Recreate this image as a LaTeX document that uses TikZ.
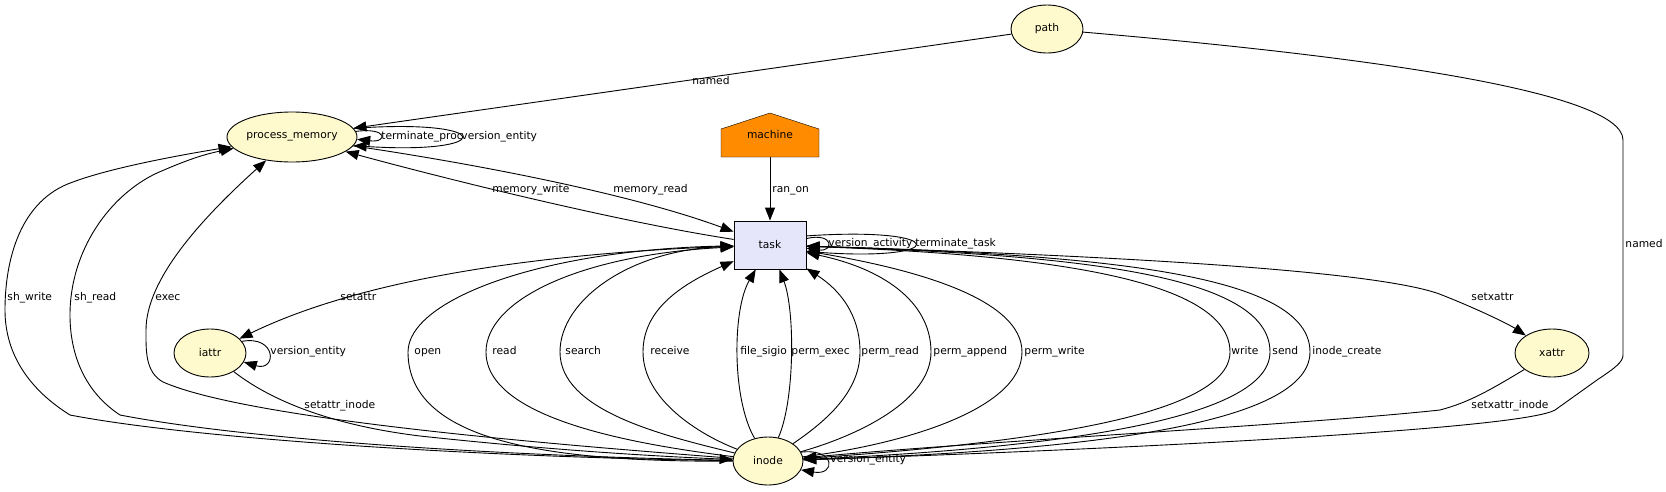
\documentclass[tikz,border=0pt]{standalone}
\usepackage{fontspec}
\setmainfont{DejaVu Sans}
\usetikzlibrary{shapes.geometric, arrows.meta, backgrounds}

\definecolor{entityfill}{HTML}{FFFACD}
\definecolor{activityfill}{HTML}{E6E6FA}
\definecolor{agentfill}{HTML}{FF8C00}

\begin{document}
\begin{tikzpicture}[
  x = 1pt, y = -1pt,
  line width = 0.9pt,
  font = \fontsize{10.7}{12}\selectfont,
  entity/.style = {
    shape = ellipse,
    draw = black,
    fill = entityfill,
    minimum width = 72pt,
    minimum height = 48pt,
    inner sep = 0pt,
  },
  activity/.style = {
    shape = rectangle,
    draw = black,
    fill = activityfill,
    minimum width = 72pt,
    minimum height = 48pt,
  },
  agent/.style = {
    shape = rectangle,
    minimum width = 98pt,
    minimum height = 44pt,
    inner sep = 0pt,
    outer sep = 0pt,
  }
]
  \useasboundingbox (0, 0) rectangle (1666, 491);

  \node[entity] (path) at (1047, 29) {path};
  \node[entity, minimum width = 130pt, minimum height = 50pt] (pm) at (292, 137) {process\_memory};
  \node[agent] (machine) at (770, 135) {machine};
  \node[activity] (task) at (770, 245) {task};
  \node[entity] (iattr) at (210, 353) {iattr};
  \node[entity, minimum width = 74pt] (xattr) at (1552, 353) {xattr};
  \node[entity, minimum width = 70pt] (inode) at (768, 461) {inode};

  \begin{scope}[on background layer]
    \draw[fill = agentfill] (machine.south west) -- (machine.south east)
      -- ([yshift = -16pt]machine.north east) -- (machine.north)
      -- ([yshift = -16pt]machine.north west) -- cycle;
  \end{scope}

  \begin{scope}[
    every path/.style = {-{Triangle[length = 13pt, width = 10pt]}},
    every node/.style = {anchor = west, inner sep = 0pt, text height = 0.76em, text depth = 0.24em}
  ]
    \draw (path) -- (pm) node at (692, 82) {named};
    \draw (pm.5) .. controls (388, 127) and (388, 143) .. (pm.-2) node at (381, 137) {terminate\_proc};
    \draw (pm.8) .. controls (497, 118) and (497, 155) .. (pm.-8) node at (461, 137) {version\_entity};

    \draw (task) .. controls (620, 222) and (450, 180) .. (pm) node at (492, 190) {memory\_write};
    \draw (pm) .. controls (450, 160) and (620, 190) .. (task) node at (613, 190) {memory\_read};

    \draw (machine) -- (task) node at (772, 190) {ran\_on};
    \draw (task.10) .. controls (834, 232) and (834, 252) .. (task.-5) node at (828, 244) {version\_activity};
    \draw (task.14) .. controls (951, 226) and (951, 262) .. (task.-10) node at (915, 244) {terminate\_task};

    \draw (inode) .. controls (500, 458) and (200, 440) .. (70, 415)
      .. controls (30, 390) and (5, 355) .. (5, 310)
      .. controls (5, 260) and (20, 200) .. (73, 182)
      .. controls (110, 168) and (180, 155) .. (pm) node at (7, 298) {sh\_write};
    \draw (inode) .. controls (500, 456) and (250, 440) .. (120, 415)
      .. controls (85, 392) and (70, 355) .. (70, 315)
      .. controls (70, 250) and (110, 195) .. (157, 173)
      .. controls (180, 163) and (200, 155) .. (pm) node at (74, 298) {sh\_read};
    \draw (inode) .. controls (560, 445) and (250, 420) .. (163, 382)
      .. controls (145, 372) and (146, 350) .. (146, 330)
      .. controls (146, 280) and (200, 220) .. (pm) node at (155, 298) {exec};

    \draw (task) .. controls (560, 252) and (370, 275) .. (iattr) node at (340, 298) {setattr};
    \draw (iattr) .. controls (270, 400) and (330, 425) .. (420, 436)
      .. controls (550, 450) and (650, 456) .. (inode) node at (304, 406) {setattr\_inode};
    \draw (iattr.20) .. controls (277, 335) and (277, 372) .. (iattr.-15) node at (270, 352) {version\_entity};

    \draw (inode) .. controls (560, 462) and (408, 445) .. (408, 352)
      .. controls (408, 300) and (540, 250) .. (task) node at (414, 352) {open};
    \draw (inode) .. controls (640, 445) and (486, 420) .. (486, 352)
      .. controls (486, 300) and (580, 255) .. (task) node at (492, 352) {read};
    \draw (inode) .. controls (660, 435) and (560, 410) .. (560, 352)
      .. controls (560, 300) and (630, 250) .. (task) node at (565, 352) {search};
    \draw (inode) .. controls (700, 435) and (643, 400) .. (643, 352)
      .. controls (643, 310) and (680, 285) .. (task) node at (650, 352) {receive};
    \draw (inode) .. controls (732, 400) and (732, 310) .. (task) node at (740, 352) {file\_sigio};
    \draw (inode) .. controls (795, 400) and (795, 310) .. (task) node at (791, 352) {perm\_exec};
    \draw (inode) .. controls (820, 425) and (860, 395) .. (860, 352)
      .. controls (860, 315) and (840, 290) .. (task) node at (861, 352) {perm\_read};
    \draw (inode) .. controls (860, 435) and (931, 400) .. (931, 352)
      .. controls (931, 300) and (880, 268) .. (task) node at (933, 352) {perm\_append};
    \draw (inode) .. controls (900, 445) and (1022, 410) .. (1022, 352)
      .. controls (1022, 300) and (920, 270) .. (task) node at (1024, 352) {perm\_write};
    \draw (inode) .. controls (1000, 445) and (1230, 420) .. (1230, 352)
      .. controls (1230, 280) and (1050, 255) .. (task) node at (1231, 352) {write};
    \draw (inode) .. controls (1020, 450) and (1270, 425) .. (1270, 352)
      .. controls (1270, 275) and (1080, 255) .. (task) node at (1272, 352) {send};
    \draw (inode) .. controls (1050, 452) and (1310, 430) .. (1310, 352)
      .. controls (1310, 275) and (1110, 255) .. (task) node at (1312, 352) {inode\_create};

    \draw (task) .. controls (1100, 255) and (1380, 270) .. (1442, 295)
      .. controls (1480, 310) and (1510, 325) .. (xattr) node at (1471, 298) {setxattr};
    \draw (xattr) .. controls (1490, 390) and (1470, 402) .. (1440, 410)
      .. controls (1300, 425) and (1000, 440) .. (inode) node at (1471, 406) {setxattr\_inode};

    \draw (path) .. controls (1350, 55) and (1623, 90) .. (1623, 140)
      -- (1623, 355)
      .. controls (1623, 362) and (1615, 368) .. (1597, 380)
      -- (1555, 410)
      .. controls (1520, 430) and (1100, 450) .. (inode) node at (1625, 245) {named};

    \draw (inode.15) .. controls (836, 448) and (836, 476) .. (inode.-15) node at (830, 460) {version\_entity};
  \end{scope}
\end{tikzpicture}
\end{document}
